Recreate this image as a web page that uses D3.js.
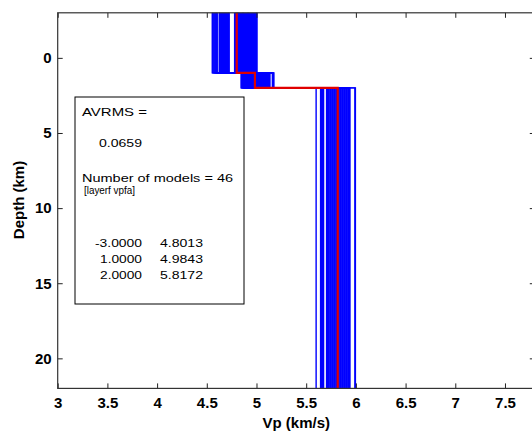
<!DOCTYPE html>
<meta charset="utf-8">
<script src="https://d3js.org/d3.v7.min.js"></script>
<style>
  body { margin: 0; background: #fff; }
  text { font-family: "Liberation Sans", Arial, Helvetica, sans-serif; }
</style>
<div id="my_dataviz"></div>
<script>

// layer tops (km) and bottom of the plotted half space
var layerTops = [-3, 1, 2];
var depthBottom = 22;

// best model (red)
var bestVp = [4.8013, 4.9843, 5.8172];

// the 46 models, one value per layer
var layer1Vp = [4.555, 4.56, 4.57, 4.58, 4.59, 4.60, 4.605, 4.625, 4.63, 4.64,
                4.65, 4.66, 4.67, 4.68, 4.69, 4.70, 4.71, 4.72, 4.725, 4.78,
                4.79, 4.80, 4.81, 4.82, 4.83, 4.84, 4.85, 4.86, 4.87, 4.88,
                4.89, 4.90, 4.91, 4.92, 4.93, 4.94, 4.95, 4.96, 4.97, 4.98,
                4.99, 5.00, 4.815, 4.865, 4.915, 5.005];
var layer2Vp = [4.845, 4.85, 4.855, 4.86, 4.87, 4.875, 4.88, 4.89, 4.895, 4.90,
                4.91, 4.915, 4.92, 4.93, 4.935, 4.94, 4.95, 4.955, 4.96, 4.97,
                4.975, 4.98, 4.99, 4.995, 5.00, 5.01, 5.015, 5.02, 5.03, 5.035,
                5.04, 5.05, 5.06, 5.07, 5.08, 5.09, 5.10, 5.11, 5.12, 5.13,
                5.135, 5.16, 5.165, 5.17, 5.175, 5.125];
var layer3Vp = [5.60, 5.645, 5.655, 5.66, 5.665, 5.675, 5.705, 5.71, 5.715, 5.72,
                5.725, 5.73, 5.74, 5.745, 5.75, 5.76, 5.765, 5.77, 5.78, 5.785,
                5.79, 5.80, 5.805, 5.81, 5.82, 5.825, 5.83, 5.84, 5.845, 5.85,
                5.86, 5.865, 5.87, 5.88, 5.885, 5.89, 5.90, 5.905, 5.91, 5.92,
                5.925, 5.93, 5.935, 5.94, 5.99, 5.995];

var xTicks = [3, 3.5, 4, 4.5, 5, 5.5, 6, 6.5, 7, 7.5];
var yTicks = [0, 5, 10, 15, 20];
var avrms = "0.0659";
var nModels = 46;
var runName = "[layerf vpfa]";

var W = 532, H = 433;
var svg = d3.select("#my_dataviz").append("svg")
    .attr("width", W).attr("height", H);
svg.append("rect").attr("width", W).attr("height", H).attr("fill", "#fff");

var x = d3.scaleLinear().domain([3, 7.8]).range([57.7, 534.8]);
var y = d3.scaleLinear().domain([-3, 22]).range([12.8, 388.4]);

// model -> staircase points
function stairs(vs) {
  var pts = [];
  vs.forEach(function(v, i) {
    var top = layerTops[i];
    var bot = i + 1 < layerTops.length ? layerTops[i + 1] : depthBottom;
    pts.push([v, top]);
    pts.push([v, bot]);
  });
  return pts;
}
var line = d3.line()
    .x(function(d) { return x(d[0]); })
    .y(function(d) { return y(d[1]); });

var models = layer1Vp.map(function(v, i) { return [v, layer2Vp[i], layer3Vp[i]]; });

svg.append("g").selectAll("path")
  .data(models)
  .enter().append("path")
    .attr("d", function(d) { return line(stairs(d)); })
    .attr("fill", "none")
    .attr("stroke", "#0000ff")
    .attr("stroke-width", 1.4);

svg.append("path")
    .attr("d", line(stairs(bestVp)))
    .attr("fill", "none")
    .attr("stroke", "#e00000")
    .attr("stroke-width", 2.2);

// axes (ticks pointing inwards, box on)
var fmt = function(d) { return String(d); };
var gx = svg.append("g")
    .attr("transform", "translate(0," + y(22) + ")")
    .call(d3.axisBottom(x).tickValues(xTicks).tickSizeInner(-5).tickSizeOuter(0).tickPadding(9).tickFormat(fmt));
var gxt = svg.append("g")
    .attr("transform", "translate(0," + y(-3) + ")")
    .call(d3.axisTop(x).tickValues(xTicks).tickSizeInner(-5).tickSizeOuter(0).tickFormat(""));
var gy = svg.append("g")
    .attr("transform", "translate(" + x(3) + ",0)")
    .call(d3.axisLeft(y).tickValues(yTicks).tickSizeInner(-5).tickSizeOuter(0).tickPadding(6).tickFormat(fmt));
var gyr = svg.append("g")
    .attr("transform", "translate(" + x(7.8) + ",0)")
    .call(d3.axisRight(y).tickValues(yTicks).tickSizeInner(-5).tickSizeOuter(0).tickFormat(""));

[gx, gxt, gy, gyr].forEach(function(g) {
  g.attr("color", "#222");
  g.select(".domain").remove();
  g.selectAll("text")
    .attr("font-family", "'Liberation Sans', Arial, sans-serif")
    .attr("font-size", 15).attr("font-weight", "bold").attr("fill", "#000");
});

svg.append("rect")
    .attr("x", x(3)).attr("y", y(-3))
    .attr("width", x(7.8) - x(3)).attr("height", y(22) - y(-3))
    .attr("fill", "none").attr("stroke", "#333").attr("stroke-width", 1.2);

svg.append("text")
    .attr("x", (x(3) + x(7.8)) / 2).attr("y", 428)
    .attr("text-anchor", "middle")
    .attr("font-size", 15).attr("font-weight", "bold")
    .text("Vp (km/s)");

svg.append("text")
    .attr("transform", "translate(24,200) rotate(-90)")
    .attr("text-anchor", "middle")
    .attr("font-size", 15).attr("font-weight", "bold")
    .text("Depth (km)");

// info box
svg.append("rect")
    .attr("x", 75).attr("y", 97).attr("width", 169).attr("height", 207)
    .attr("fill", "#fff").attr("stroke", "#000").attr("stroke-width", 1);

function boxText(str, xx, yy, len, anchor) {
  svg.append("text")
    .attr("x", xx).attr("y", yy + 4)
    .attr("text-anchor", anchor || "start")
    .attr("font-size", 11.5)
    .attr("textLength", len).attr("lengthAdjust", "spacingAndGlyphs")
    .text(str);
}
boxText("AVRMS =", 82, 112, 65);
boxText(avrms, 99, 143, 43);
boxText("Number of models = " + nModels, 82, 178, 151);
boxText(runName, 84, 190, 51);
layerTops.forEach(function(t, i) {
  var yy = 243 + i * 16;
  boxText(t.toFixed(4), 142, yy, t < 0 ? 47 : 42, "end");
  boxText(bestVp[i].toFixed(4), 203, yy, 43, "end");
});

</script>
